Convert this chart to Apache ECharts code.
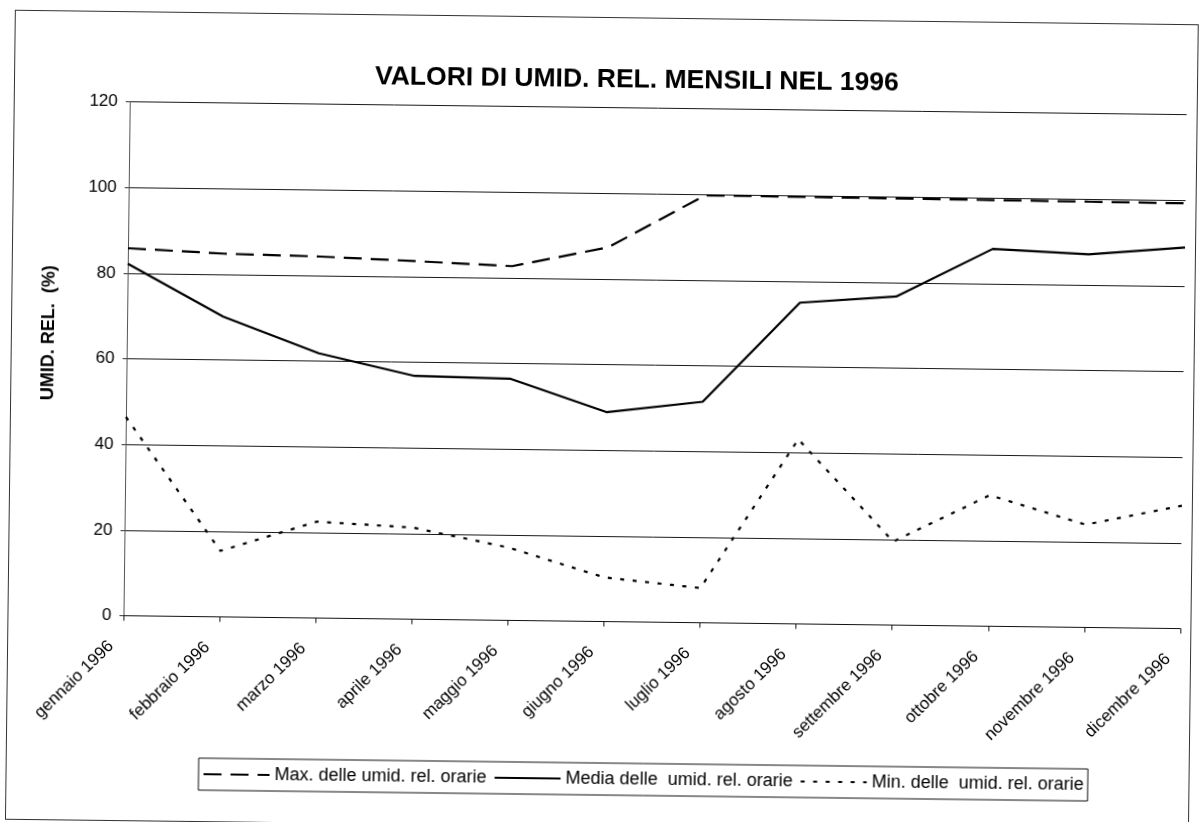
<!DOCTYPE html>
<html>
<head>
<meta charset="utf-8">
<script src="https://cdn.jsdelivr.net/npm/echarts@6/dist/echarts.min.js"></script>
<style>
  html, body { margin: 0; padding: 0; background: #fff; overflow: hidden; }
  #wrap { position: absolute; left: 0; top: 0; width: 1201px; height: 822px;
          transform: rotate(0.7deg); transform-origin: 600.5px 411px; }
  #frame { position: absolute; left: 10px; top: 17px; width: 1184px; height: 810px;
           border: 1px solid #333; box-sizing: border-box; }
  #chart { position: absolute; left: 0; top: 0; width: 1201px; height: 822px; }
</style>
</head>
<body>
<div id="wrap">
  <div id="frame"></div>
  <div id="chart"></div>
</div>
<script>
// ---- data ----
var categories = ['gennaio 1996', 'febbraio 1996', 'marzo 1996', 'aprile 1996', 'maggio 1996',
  'giugno 1996', 'luglio 1996', 'agosto 1996', 'settembre 1996', 'ottobre 1996',
  'novembre 1996', 'dicembre 1996'];
var maxValues = [85.8, 84.8, 84.4, 83.6, 82.7, 87.4, 99.8, 99.7, 99.6, 99.5, 99.4, 99.3];
var meanValues = [82.2, 70.1, 61.8, 56.8, 56.4, 48.9, 51.6, 75.0, 76.7, 88.1, 87.1, 89.0];
var minValues = [46.4, 15.4, 22.5, 21.4, 17.0, 10.3, 8.1, 43.1, 19.5, 30.6, 24.0, 28.7];
var seriesNames = ['Max. delle umid. rel. orarie', 'Media delle  umid. rel. orarie', 'Min. delle  umid. rel. orarie'];
var yTicks = { min: 0, max: 120, interval: 20 };
var titleText = 'VALORI DI UMID. REL. MENSILI NEL 1996';
var yAxisName = 'UMID. REL.  (%)';

var FONT = "Arial, 'Liberation Sans', sans-serif";
var chart = echarts.init(document.getElementById('chart'), null, { renderer: 'canvas' });

chart.setOption({
  animation: false,
  backgroundColor: 'transparent',
  title: {
    text: titleText,
    left: 366,
    top: 61,
    textStyle: { fontFamily: FONT, fontSize: 26.5, fontWeight: 'bold', color: '#000' }
  },
  grid: { left: 126, right: 18, top: 107.5, bottom: 200.5, containLabel: false },
  legend: {
    left: 203,
    top: 763,
    orient: 'horizontal',
    itemWidth: 66,
    itemHeight: 14,
    itemGap: 7,
    padding: [7, 4, 7, 4],
    borderColor: '#111',
    borderWidth: 1,
    itemStyle: { opacity: 0, borderWidth: 0 },
    textStyle: { fontFamily: FONT, fontSize: 18, color: '#000' },
    data: seriesNames
  },
  xAxis: {
    type: 'category',
    data: categories,
    boundaryGap: false,
    axisLine: { lineStyle: { color: '#111', width: 1 } },
    axisTick: { show: true, length: 5, inside: false, lineStyle: { color: '#111' } },
    axisLabel: {
      interval: 0, rotate: 45, margin: 16, color: '#000',
      fontFamily: FONT, fontSize: 17, padding: [0, 17, 0, 0]
    },
    splitLine: { show: false }
  },
  yAxis: {
    type: 'value',
    min: yTicks.min, max: yTicks.max, interval: yTicks.interval,
    name: yAxisName,
    nameLocation: 'middle',
    nameRotate: 90,
    nameGap: 69,
    nameTextStyle: { fontFamily: FONT, fontSize: 18, fontWeight: 'bold', color: '#000', padding: [0, 0, 0, 50] },
    axisLine: { show: true, lineStyle: { color: '#555', width: 1 } },
    axisTick: { show: true, length: 4, inside: false, lineStyle: { color: '#333' } },
    axisLabel: { margin: 12, color: '#000', fontFamily: FONT, fontSize: 17 },
    splitLine: { show: true, lineStyle: { color: '#1a1a1a', width: 1, type: 'solid' } }
  },
  series: [
    {
      name: seriesNames[0], type: 'line', data: maxValues,
      symbol: 'none', smooth: false,
      lineStyle: { color: '#000', width: 2.2, type: [18, 9] },
      itemStyle: { color: '#000' }
    },
    {
      name: seriesNames[1], type: 'line', data: meanValues,
      symbol: 'none', smooth: false,
      lineStyle: { color: '#000', width: 2.2, type: 'solid' },
      itemStyle: { color: '#000' }
    },
    {
      name: seriesNames[2], type: 'line', data: minValues,
      symbol: 'none', smooth: false,
      lineStyle: { color: '#000', width: 2.2, type: [4, 8.5] },
      itemStyle: { color: '#000' }
    }
  ]
});
</script>
</body>
</html>
